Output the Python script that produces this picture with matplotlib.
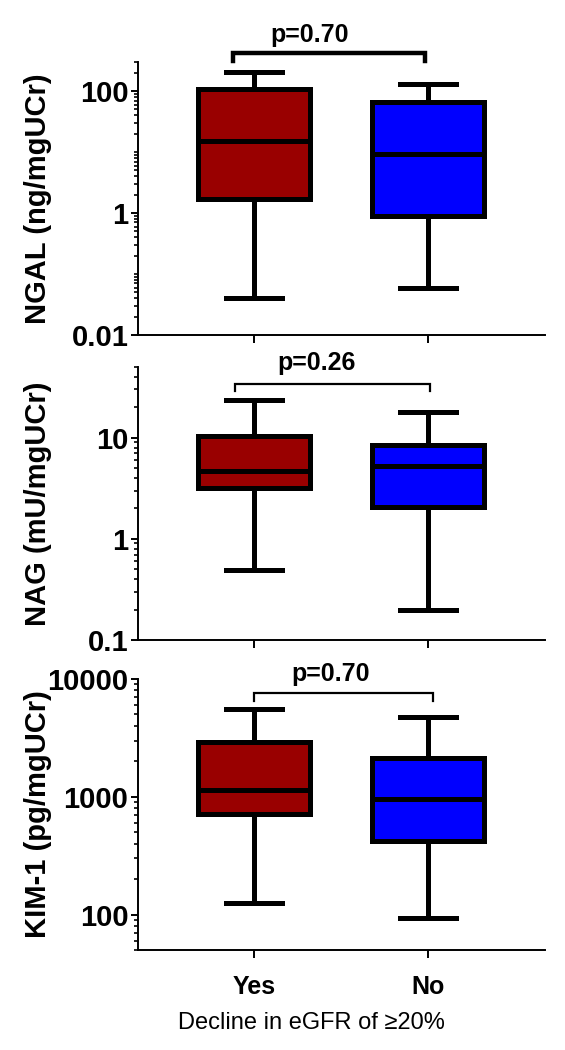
import matplotlib
matplotlib.use('Agg')
import matplotlib.pyplot as plt
from matplotlib.ticker import LogLocator, FixedLocator, FuncFormatter, NullFormatter
import matplotlib.transforms as mtransforms

plt.rcParams['font.family'] = ['Liberation Sans', 'DejaVu Sans']

# groups
grupos = ['Yes', 'No']
colores = ['#990000', '#0000FF']

# box stats: whisker low, q1, median, q3, whisker high
ngal_yes = [0.04, 1.7, 15, 110, 205]
ngal_no = [0.06, 0.9, 9.2, 66, 130]
nag_yes = [0.49, 3.2, 4.7, 10.4, 23.5]
nag_no = [0.2, 2.05, 5.2, 8.4, 18]
kim_yes = [125, 710, 1150, 2900, 5600]
kim_no = [93, 420, 950, 2150, 4750]

etiquetas_y = ['NGAL (ng/mgUCr)', 'NAG (mU/mgUCr)', 'KIM-1 (pg/mgUCr)']
valores_p = ['p=0.70', 'p=0.26', 'p=0.70']
limites_y = [(0.01, 300), (0.1, 50), (50, 10000)]
ticks_y = [[0.01, 1, 100], [0.1, 1, 10], [100, 1000, 10000]]

W, H = 565, 1050
fig = plt.figure(figsize=(W / 100, H / 100), dpi=100)

# axes boxes in pixels: (top, bottom)
cajas_px = [(62, 335), (367, 640), (679, 950)]
x_izq, x_der = 138, 545

# bracket: (x0, x1, y_line, y_tip, lw) with y in axes fraction
corchetes = [(0.88, 1.98, 1.033, 1.005, 3.2), (0.89, 2.01, 0.937, 0.913, 1.6), (1.0, 2.03, 0.947, 0.92, 1.6)]
pos_texto = [(1.32, 1.073), (1.36, 0.99), (1.44, 0.994)]

datos = [(ngal_yes, ngal_no), (nag_yes, nag_no), (kim_yes, kim_no)]

for i in range(3):
    top, bot = cajas_px[i]
    ax = fig.add_axes([x_izq / W, 1 - bot / H, (x_der - x_izq) / W, (bot - top) / H])
    ax.set_yscale('log')

    stats = []
    for g, d in zip(grupos, datos[i]):
        stats.append(dict(label=g, whislo=d[0], q1=d[1], med=d[2], q3=d[3], whishi=d[4]))

    bp = ax.bxp(stats, positions=[1, 2], widths=0.64, patch_artist=True, showfliers=False,
                boxprops=dict(linewidth=3.6, edgecolor='black'),
                medianprops=dict(linewidth=3.6, color='black'),
                whiskerprops=dict(linewidth=3.6, color='black'),
                capprops=dict(linewidth=3.6, color='black'),
                capwidths=0.32)
    for caja, c in zip(bp['boxes'], colores):
        caja.set_facecolor(c)

    ax.set_xlim(0.333, 2.672)
    ax.set_ylim(*limites_y[i])

    ax.yaxis.set_major_locator(FixedLocator(ticks_y[i]))
    ax.yaxis.set_minor_locator(LogLocator(base=10, subs=range(1, 10), numticks=20))
    ax.yaxis.set_major_formatter(FuncFormatter(lambda v, p: '%g' % v))
    ax.yaxis.set_minor_formatter(NullFormatter())

    for s in ['top', 'right']:
        ax.spines[s].set_visible(False)
    for s in ['left', 'bottom']:
        ax.spines[s].set_linewidth(1.4)

    ax.tick_params(axis='y', which='major', direction='out', length=5, width=1.4, pad=2,
                   labelsize=21)
    ax.tick_params(axis='y', which='minor', direction='out', length=3, width=1.2)
    ax.tick_params(axis='x', which='major', direction='out', length=6, width=1.4)
    for t in ax.get_yticklabels():
        t.set_fontweight('bold')

    if i < 2:
        ax.set_xticklabels([])
    else:
        ax.set_xticklabels(grupos, fontsize=18, fontweight='bold')
        ax.tick_params(axis='x', pad=12)

    # ylabel
    fig.text(38 / W, 1 - (top + bot) / 2 / H, etiquetas_y[i], rotation=90, ha='center', va='center',
             fontsize=21, fontweight='bold')

    # bracket with p value
    trans = mtransforms.blended_transform_factory(ax.transData, ax.transAxes)
    x0, x1, yl, yt, lw = corchetes[i]
    ax.plot([x0, x0, x1, x1], [yt, yl, yl, yt], color='black', linewidth=lw,
            transform=trans, clip_on=False, solid_joinstyle='miter')
    tx, ty = pos_texto[i]
    ax.text(tx, ty, valores_p[i], transform=trans, ha='center', va='baseline',
            fontsize=18, fontweight='bold')

# x title, centred a bit left of the axis centre
fig.text(311 / W, 1 - 1023 / H, 'Decline in eGFR of \u226520%', ha='center', va='center', fontsize=17)

fig.savefig('out.png', dpi=100)
